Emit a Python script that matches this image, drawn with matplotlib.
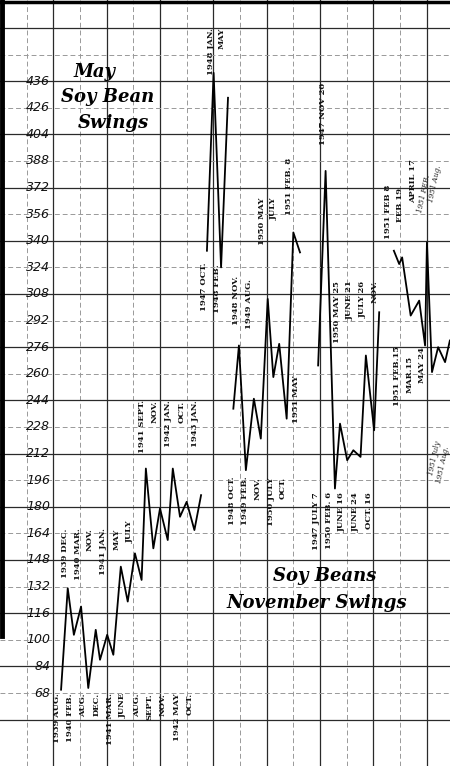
import matplotlib
matplotlib.use('Agg')
import matplotlib.pyplot as plt

# eje Y: precio (centavos por bushel), marcas cada 16
y_ticks = [436, 420, 404, 388, 372, 356, 340, 324, 308, 292, 276, 260,
           244, 228, 212, 196, 180, 164, 148, 132, 116, 100, 84, 68]
y_tick_labels = ['436', '426', '404', '388', '372', '356', '340', '324',
                 '308', '292', '276', '260', '244', '228', '212', '196',
                 '180', '164', '148', '132', '116', '100', '84', '68']

# eje X: columnas del papel cuadriculado (fechas irregulares)
nov_39_43_col = [2.29, 2.54, 2.77, 3.04, 3.31, 3.59, 3.75, 4.02, 4.25, 4.53, 4.79,
                 5.06, 5.31, 5.47, 5.75, 6.00, 6.29, 6.48, 6.75, 7.00, 7.29, 7.54]
nov_39_43_price = [70, 131, 103, 120, 71, 106, 88, 103, 91, 144, 123,
                   152, 136, 203, 155, 179, 160, 203, 174, 183, 166, 187]

may_47_48_col = [7.76, 8.01, 8.29, 8.55]
may_47_48_price = [334, 441, 324, 426]

nov_48_51_col = [8.75, 8.96, 9.22, 9.52, 9.78, 10.04, 10.25, 10.47, 10.75, 11.00, 11.25]
nov_48_51_price = [239, 277, 202, 245, 221, 305, 258, 278, 233, 345, 333]

may_47_50_col = [11.93, 12.21, 12.56, 12.75, 13.02, 13.25, 13.52, 13.72, 14.03, 14.22]
may_47_50_price = [265, 382, 191, 230, 208, 214, 210, 271, 226, 297]

may_51_col = [14.77, 14.97, 15.08, 15.40, 15.72, 15.94, 16.01, 16.20, 16.43, 16.69, 16.87]
may_51_price = [334, 326, 330, 295, 304, 277, 339, 261, 276, 267, 280]

# etiquetas de fechas: (texto, columna, precio, alineacion vertical)
fechas = [
    ('1939 AUG.', 2.14, 68, 'top'), ('1940 FEB.', 2.62, 68, 'top'),
    ('AUG.', 3.11, 68, 'top'), ('DEC.', 3.64, 68, 'top'),
    ('1941 MAR.', 4.12, 68, 'top'), ('JUNE', 4.61, 68, 'top'),
    ('AUG.', 5.14, 68, 'top'), ('SEPT.', 5.62, 68, 'top'),
    ('NOV.', 6.11, 68, 'top'), ('1942 MAY', 6.64, 68, 'top'),
    ('OCT.', 7.12, 68, 'top'),
    ('1939 DEC.', 2.44, 167, 'top'), ('1940 MAR.', 2.92, 167, 'top'),
    ('NOV.', 3.37, 167, 'top'), ('1941 JAN.', 3.86, 167, 'top'),
    ('MAY', 4.39, 167, 'top'), ('JULY', 4.87, 172, 'top'),
    ('1941 SEPT.', 5.32, 244, 'top'), ('NOV.', 5.81, 244, 'top'),
    ('1942 JAN.', 6.30, 244, 'top'), ('OCT.', 6.82, 244, 'top'),
    ('1943 JAN.', 7.31, 244, 'top'),
    ('1947 OCT.', 7.65, 327, 'top'), ('1948 FEB.', 8.14, 326, 'top'),
    ('1948 JAN.', 7.91, 468, 'top'), ('MAY', 8.32, 468, 'top'),
    ('1948 OCT.', 8.70, 198, 'top'), ('1949 FEB.', 9.19, 198, 'top'),
    ('NOV.', 9.67, 198, 'top'), ('1950 JULY', 10.16, 198, 'top'),
    ('OCT.', 10.61, 198, 'top'),
    ('1948 NOV.', 8.85, 319, 'top'), ('1949 AUG.', 9.34, 317, 'top'),
    ('1950 MAY', 9.82, 366, 'top'), ('JULY', 10.27, 366, 'top'),
    ('1951 FEB. 8', 10.84, 390, 'top'), ('1951 MAY', 11.10, 259, 'top'),
    ('1947 NOV 20', 12.11, 435, 'top'),
    ('1947 JULY 7', 11.85, 189, 'top'), ('1950 FEB. 6', 12.34, 189, 'top'),
    ('JUNE 16', 12.82, 189, 'top'), ('JUNE 24', 13.35, 189, 'top'),
    ('OCT. 16', 13.84, 189, 'top'),
    ('1950 MAY 25', 12.64, 316, 'top'), ('JUNE 21', 13.12, 316, 'top'),
    ('JULY 26', 13.61, 316, 'top'), ('NOV.', 14.06, 316, 'top'),
    ('1951 FEB 8', 14.55, 374, 'top'), ('FEB 19', 15.00, 372, 'top'),
    ('APRIL 17', 15.49, 389, 'top'),
    ('1951 FEB.15', 14.89, 277, 'top'), ('MAR.15', 15.37, 271, 'top'),
    ('MAY 24', 15.82, 276, 'top'),
]
notas_mano = [
    ('1951 FEB.', 15.90, 380), ('1951 Aug.', 16.33, 386),
    ('1951 July', 16.30, 220), ('1951 Aug.', 16.62, 217),
]

fig = plt.figure(figsize=(4.5, 7.66), dpi=100)
ax = fig.add_axes([0, 0, 1, 1])
ax.set_xlim(0, 16.875)
ax.set_ylim(24.1, 484.8)
ax.set_axis_off()

# cuadricula: linea llena cada 2 cuadros, punteada en medio
for k in range(1, 17):
    if k % 2 == 0:
        ax.axvline(k, color='#2a2a2a', lw=0.9, zorder=1)
    else:
        ax.axvline(k, color='#999999', lw=0.7, ls=(0, (5, 3)), zorder=1)
for v in range(52, 469, 16):
    if (v - 52) % 32 == 0:
        ax.axhline(v, color='#2a2a2a', lw=0.9, zorder=1)
    else:
        ax.axhline(v, color='#999999', lw=0.7, ls=(0, (5, 3)), zorder=1)

# bordes gruesos del papel
ax.plot([0.005, 0.005], [0.17, 1], transform=ax.transAxes, color='black', lw=3.5, clip_on=False)
ax.plot([0, 1], [0.997, 0.997], transform=ax.transAxes, color='black', lw=2.5, clip_on=False)

for v, lab in zip(y_ticks, y_tick_labels):
    ax.text(1.88, v, lab, ha='right', va='center', fontsize=9, style='italic',
            family='DejaVu Sans', color='#111111', zorder=3)

for xs, ys in [(nov_39_43_col, nov_39_43_price), (may_47_48_col, may_47_48_price),
               (nov_48_51_col, nov_48_51_price), (may_47_50_col, may_47_50_price),
               (may_51_col, may_51_price)]:
    ax.plot(xs, ys, color='black', lw=1.3, zorder=4)

for txt, x, y, va in fechas:
    ax.text(x, y, txt, rotation=90, ha='center', va=va, fontsize=6.0,
            family='DejaVu Serif', weight='bold', color='#111111', zorder=3)
for txt, x, y in notas_mano:
    ax.text(x, y, txt, rotation=78, ha='center', va='top', fontsize=5.2,
            family='DejaVu Serif', style='italic', color='#222222', zorder=3)

titulo = dict(family='DejaVu Serif', style='italic', weight='bold', fontsize=13,
              ha='center', va='center', color='black', zorder=5)
ax.text(3.56, 441.5, 'May', **titulo)
ax.text(4.05, 426.5, 'Soy Bean', **titulo)
ax.text(4.24, 410.9, 'Swings', **titulo)
ax.text(12.19, 138.4, 'Soy Beans', **titulo)
ax.text(11.89, 122.1, 'November Swings', **titulo)

fig.savefig('out.png', dpi=100, facecolor='white')
